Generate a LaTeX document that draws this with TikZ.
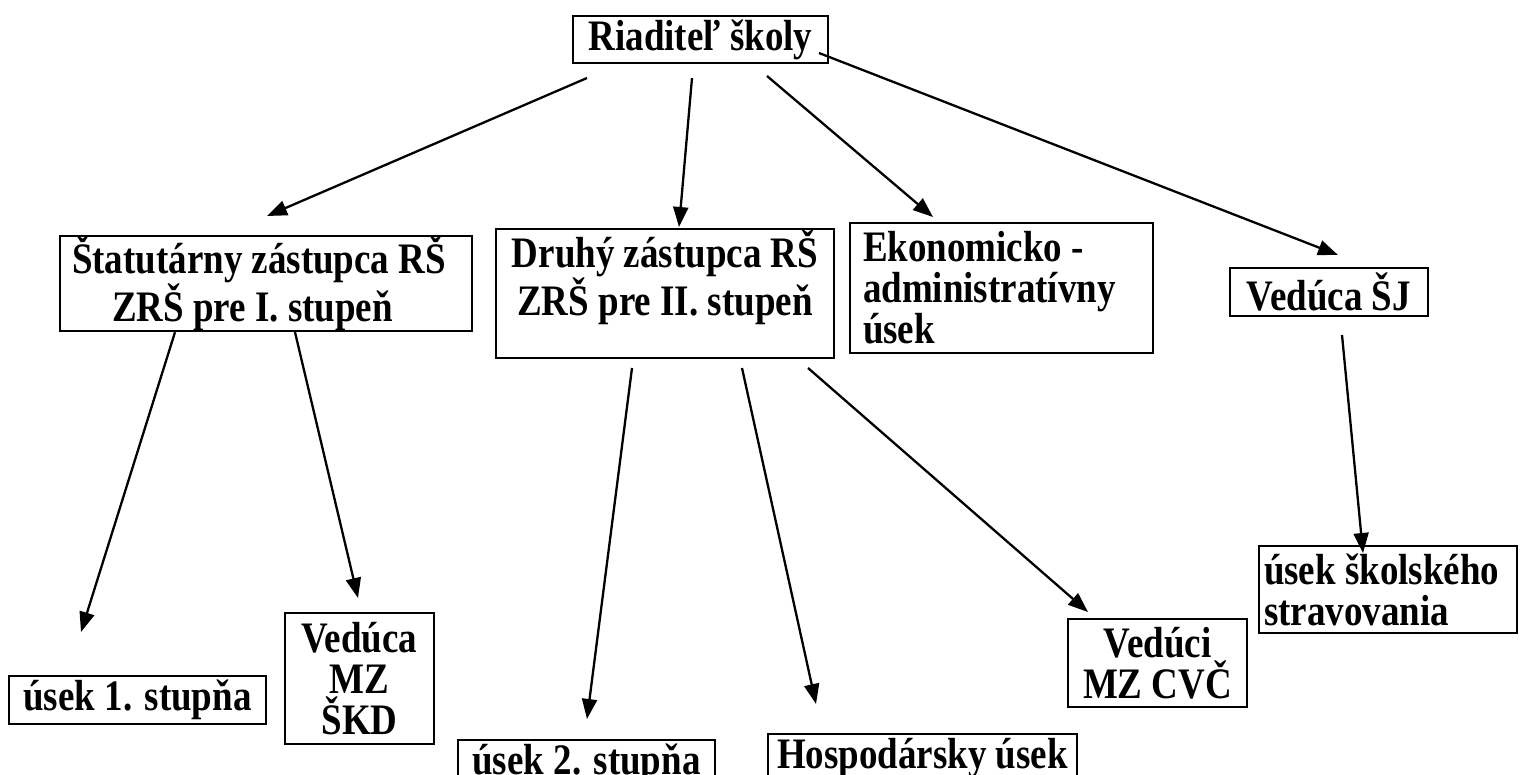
\documentclass[tikz,border=0pt]{standalone}
\usepackage{fontspec}
\setmainfont{Liberation Serif}[FakeStretch=0.85]
\usetikzlibrary{arrows.meta}
\newcommand\orgfont{\bfseries\fontsize{43.5}{41}\selectfont\setlength{\spaceskip}{9.3pt plus 3pt minus 2pt}}
\begin{document}
\begin{tikzpicture}[x=1pt,y=-1pt,
    box/.style={draw,rectangle,line width=2.4pt,inner sep=0pt,outer sep=0pt,anchor=north west,font=\orgfont},
    arr/.style={line width=2.3pt,-{Triangle[length=20pt,width=15pt]}}]
    \useasboundingbox (0,0) rectangle (1520,774);

    \node[box,minimum width=255pt,minimum height=47pt] (riad) at (573,16) {Riaditeľ školy};

    \node[box,minimum width=412pt,minimum height=88pt,inner xsep=12pt,text width=388pt,align=flush left] (stat) at (60,236) {Štatutárny zástupca RŠ\\\hspace*{40pt}ZRŠ pre I. stupeň};
    \node[box,minimum width=338pt,minimum height=129pt,text width=338pt,align=flush center] (druhy) at (496,229) {Druhý zástupca RŠ\\ZRŠ pre II. stupeň\\\mbox{}};
    \node[box,minimum width=303pt,minimum height=130pt,inner xsep=13pt,text width=277pt,align=flush left] (eko) at (850,223) {Ekonomicko -\\administratívny\\úsek};
    \node[box,minimum width=198pt,minimum height=48pt] (sj) at (1230,268) {Vedúca ŠJ};

    \node[box,minimum width=257pt,minimum height=48pt] (usek1) at (9,676) {úsek 1. stupňa};
    \node[box,minimum width=149pt,minimum height=131pt,text width=149pt,align=flush center] (skd) at (285,613) {Vedúca\\MZ\\ŠKD};
    \node[box,minimum width=257pt,minimum height=48pt] (usek2) at (458,740) {úsek 2. stupňa};
    \node[box,minimum height=48pt,inner xsep=9pt] (hosp) at (768,734) {Hospodársky úsek};
    \node[box,minimum width=179pt,minimum height=88pt,text width=179pt,align=flush center] (cvc) at (1068,619) {Vedúci\\MZ CVČ};
    \node[box,minimum width=258pt,minimum height=87pt,inner xsep=5pt,text width=248pt,align=flush left] (strav) at (1259,546) {úsek školského\\stravovania};

    \draw[arr] ([shift={(14,15)}]riad.south west) -- ([shift={(207,-20)}]stat.north west);
    \draw[arr] ([shift={(119,15)}]riad.south west) -- ([shift={(183,-2)}]druhy.north west);
    \draw[arr] ([shift={(194,13)}]riad.south west) -- ([shift={(83,-6)}]eko.north west);
    \draw[arr] ([shift={(-9,-10)}]riad.south east) -- ([shift={(108,-13)}]sj.north west);

    \draw[arr] ([shift={(115,1)}]stat.south west) -- ([shift={(72,-44)}]usek1.north west);
    \draw[arr] ([shift={(235,1)}]stat.south west) -- ([shift={(73,-15)}]skd.north west);

    \draw[arr] ([shift={(136,10)}]druhy.south west) -- ([shift={(129,-21)}]usek2.north west);
    \draw[arr] ([shift={(246,10)}]druhy.south west) -- ([shift={(48,-30)}]hosp.north west);
    \draw[arr] ([shift={(312,10)}]druhy.south west) -- ([shift={(20,-7)}]cvc.north west);

    \draw[arr] ([shift={(112,19)}]sj.south west) -- ([shift={(104,7)}]strav.north west);
\end{tikzpicture}
\end{document}
